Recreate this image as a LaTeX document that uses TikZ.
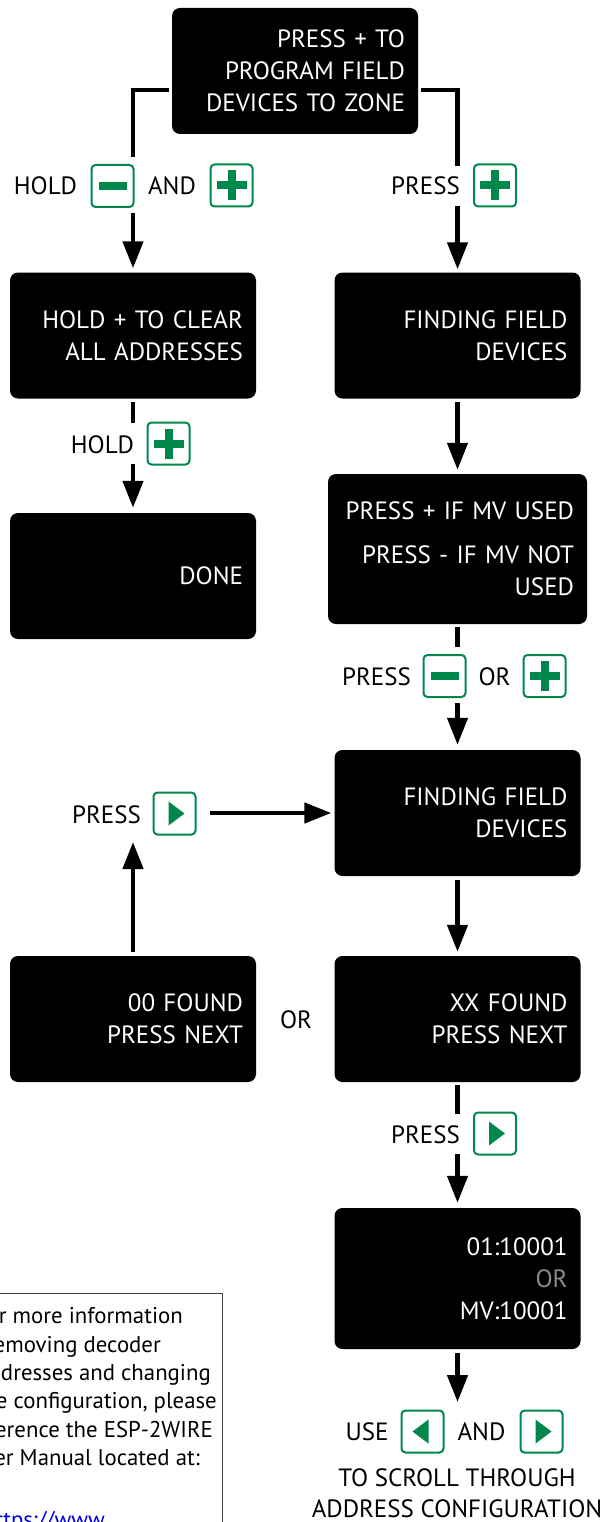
\documentclass[tikz,border=0pt]{standalone}
\usepackage{fontspec}
\setmainfont{PT Sans}
\usetikzlibrary{arrows.meta,calc}
\definecolor{keygreen}{RGB}{0,135,75}
\definecolor{linkblue}{RGB}{0,0,235}
\definecolor{orgray}{RGB}{140,140,140}
\begin{document}
\begin{tikzpicture}[x=1pt,y=-1pt,
  screen/.style={fill=black, rounded corners=8pt, text=white, align=right,
    text width=220pt, inner xsep=13pt, inner ysep=0pt, minimum height=126pt,
    font=\fontsize{25}{32}\selectfont},
  lbl/.style={font=\fontsize{25}{31}\selectfont, inner sep=0pt, anchor=base},
  note/.style={font=\fontsize{22.8}{28}\selectfont, inner sep=0pt, anchor=base east},
  key/.style={draw=keygreen, line width=2pt, fill=white, rounded corners=4pt,
    minimum size=42pt, inner sep=0pt},
  keyplus/.style={key, path picture={
    \fill[keygreen, sharp corners] ($(path picture bounding box.center)+(-15pt,-4pt)$) rectangle ++(30pt,8pt);
    \fill[keygreen, sharp corners] ($(path picture bounding box.center)+(-4pt,-15pt)$) rectangle ++(8pt,30pt);}},
  keyminus/.style={key, path picture={
    \fill[keygreen, sharp corners] ($(path picture bounding box.center)+(-14pt,-4pt)$) rectangle ++(28pt,8pt);}},
  keyright/.style={key, path picture={
    \fill[keygreen, sharp corners] ($(path picture bounding box.center)+(-6pt,-12pt)$) -- ($(path picture bounding box.center)+(-6pt,12pt)$) -- ($(path picture bounding box.center)+(10pt,0pt)$) -- cycle;}},
  keyleft/.style={key, path picture={
    \fill[keygreen, sharp corners] ($(path picture bounding box.center)+(6pt,-12pt)$) -- ($(path picture bounding box.center)+(6pt,12pt)$) -- ($(path picture bounding box.center)+(-10pt,0pt)$) -- cycle;}},
  wire/.style={line width=4.5pt, draw=black},
  arr/.style={wire, -{Triangle[width=20pt,length=27pt]}}
]
\useasboundingbox (0,0) rectangle (608,1522);

% screens
\node[screen] (top) at (295,71) {PRESS + TO\\PROGRAM FIELD\\DEVICES TO ZONE};
\node[screen] (clear) at (133,335.5) {HOLD + TO CLEAR\\ALL ADDRESSES};
\node[screen] (find1) at (457.5,335.5) {FINDING FIELD\\DEVICES};
\node[screen] (done) at (133,576) {DONE};
\node[screen, text width=233pt, minimum height=150pt] (mv) at (457.5,549) {PRESS + IF MV USED\\[12pt]PRESS - IF MV NOT\\USED};
\node[screen] (find2) at (457.5,813) {FINDING FIELD\\DEVICES};
\node[screen] (none) at (133,1019) {00 FOUND\\PRESS NEXT};
\node[screen] (xx) at (457.5,1019) {XX FOUND\\PRESS NEXT};
\node[screen, minimum height=141pt] (addr) at (457.5,1278.5) {01:10001\\\textcolor{orgray}{OR}\\MV:10001};

% connector end points
\coordinate (brLtop) at (133,90);
\coordinate (brL) at (133,157);
\coordinate (brRtop) at (457.5,90);
\coordinate (brR) at (457.5,166);
\coordinate (aL1) at (133,213);
\coordinate (aR1) at (457.5,206);
\coordinate (sL2) at (133,423);
\coordinate (aL2) at (133,464);
\coordinate (sR3) at (457.5,647);
\coordinate (aR3) at (457.5,703);
\coordinate (upTip) at (133,842);
\coordinate (hS) at (210,813);
\coordinate (sR5) at (457.5,1114);
\coordinate (aR5) at (457.5,1154);
\coordinate (aR6) at (457.5,1402);

% connectors
\draw[wire, shorten <=3pt] (top.west |- brLtop) -| (brL);
\draw[wire, shorten <=3pt] (top.east |- brRtop) -| (brR);
\draw[arr, shorten >=4pt] (aL1) -- (clear.north);
\draw[arr, shorten >=3pt] (aR1) -- (find1.north);
\draw[wire, shorten <=3pt] (clear.south) -- (sL2);
\draw[arr, shorten >=5pt] (aL2) -- (done.north);
\draw[arr, shorten <=3pt, shorten >=4pt] (find1.south) -- (mv.north);
\draw[wire, shorten <=3pt] (mv.south) -- (sR3);
\draw[arr, shorten >=5pt] (aR3) -- (find2.north);
\draw[arr, shorten <=4pt] (none.north) -- (upTip);
\draw[arr, shorten >=3pt] (hS) -- (find2.west);
\draw[arr, shorten <=4pt, shorten >=4pt] (find2.south) -- (xx.north);
\draw[wire, shorten <=3pt] (xx.south) -- (sR5);
\draw[arr, shorten >=5pt] (aR5) -- (addr.north);
\draw[arr, shorten <=4pt] (addr.south) -- (aR6);

% key labels
\node[lbl] (holdA) at (45.5,195) {HOLD};
\node[keyminus] (kminA) at (112.5,186) {};
\node[lbl] (andA) at (172,195) {AND};
\node[keyplus] (kplusA) at (231.5,185.5) {};
\node[lbl] (pressB) at (425.5,195) {PRESS};
\node[keyplus] (kplusB) at (495,185.5) {};
\node[lbl] (holdC) at (102.5,453) {HOLD};
\node[keyplus] (kplusC) at (168.5,443.5) {};
\node[lbl] (pressD) at (376.5,685) {PRESS};
\node[keyminus] (kminD) at (444.5,676) {};
\node[lbl] (orD) at (494.5,685) {OR};
\node[keyplus] (kplusD) at (544.5,676) {};
\node[lbl] (pressE) at (106.5,823) {PRESS};
\node[keyright] (krightE) at (174.5,813.5) {};
\node[lbl] (orMid) at (296,1028) {OR};
\node[lbl] (pressF) at (425.5,1143) {PRESS};
\node[keyright] (krightF) at (495,1133.5) {};
\node[lbl] (useG) at (367,1440) {USE};
\node[keyleft] (kleftG) at (422.5,1431.5) {};
\node[lbl] (andG) at (481.5,1440) {AND};
\node[keyright] (krightG) at (541.5,1431.5) {};
\node[lbl, anchor=center, align=center] (scroll) at (457,1493.5) {TO SCROLL THROUGH\\ADDRESS CONFIGURATION};

% reference note, running off the page edges
\begin{scope}
  \clip (0,0) rectangle (608,1522);
  \draw[line width=1pt, draw=black!75] (-60,1293) rectangle (222,1620);
  \node[note] (n1) at (183,1323) {For more information};
  \node[note] (n2) at (161,1352) {on removing decoder};
  \node[note] (n3) at (211,1380) {addresses and changing};
  \node[note] (n4) at (217,1408) {the configuration, please};
  \node[note] (n5) at (213,1437) {reference the ESP-2WIRE};
  \node[note] (n6) at (200,1465) {User Manual located at:};
  \node[note, text=linkblue] (n7) at (105,1527) {https://www};
\end{scope}
\end{tikzpicture}
\end{document}
